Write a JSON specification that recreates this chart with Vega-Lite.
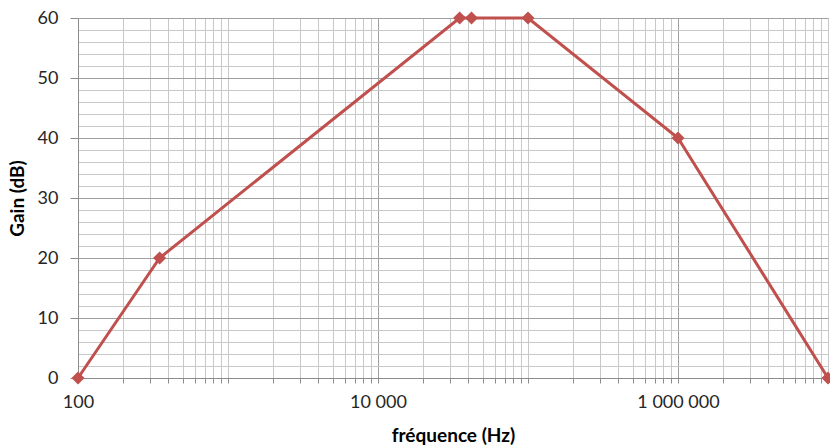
{
  "$schema": "https://vega.github.io/schema/vega-lite/v6.json",
  "autosize": {"type": "none"},
  "padding": {"left": 78, "top": 18, "right": 2, "bottom": 70},
  "width": 750,
  "height": 360,
  "background": "white",
  "config": {
    "view": {"stroke": null},
    "font": "Lato"
  },
  "data": {
    "values": [
      {"f": 100, "gain": 0},
      {"f": 350, "gain": 20},
      {"f": 35000, "gain": 60},
      {"f": 42000, "gain": 60},
      {"f": 100000, "gain": 60},
      {"f": 1000000, "gain": 40},
      {"f": 10000000, "gain": 0}
    ]
  },
  "mark": {"type": "line", "color": "#c0504d", "strokeWidth": 3, "point": {"shape": "diamond", "size": 170, "color": "#c0504d", "filled": true, "opacity": 1}},
  "encoding": {
    "x": {
      "field": "f",
      "type": "quantitative",
      "scale": {"type": "log", "domain": [100, 10000000], "nice": false},
      "axis": {
        "title": "fréquence (Hz)",
        "titleFont": "Lato",
        "titleFontSize": 19,
        "titleFontWeight": "bold",
        "titleColor": "#000000",
        "titlePadding": 15,
        "values": [100,200,300,400,500,600,700,800,900,1000,2000,3000,4000,5000,6000,7000,8000,9000,10000,20000,30000,40000,50000,60000,70000,80000,90000,100000,200000,300000,400000,500000,600000,700000,800000,900000,1000000,2000000,3000000,4000000,5000000,6000000,7000000,8000000,9000000,10000000],
        "labelExpr": "datum.value == 100 ? '100' : datum.value == 10000 ? '10 000' : datum.value == 1000000 ? '1 000 000' : ''",
        "labelFontSize": 18,
        "labelColor": "#262626",
        "labelPadding": 10,
        "labelOverlap": false,
        "labelFlush": false,
        "tickSize": 5,
        "tickColor": "#8c8c8c",
        "domainColor": "#8c8c8c",
        "domainWidth": 1,
        "grid": true,
        "gridColor": {"condition": {"test": "datum.value == 100 || datum.value == 10000 || datum.value == 1000000", "value": "#a0a0a0"}, "value": "#c8c8c8"},
        "gridWidth": 1
      }
    },
    "y": {
      "field": "gain",
      "type": "quantitative",
      "scale": {"domain": [0, 60], "nice": false},
      "axis": {
        "title": "Gain (dB)",
        "titleFont": "Lato",
        "titleFontSize": 19,
        "titleFontWeight": "bold",
        "titleColor": "#000000",
        "titlePadding": 10,
        "values": [0,2,4,6,8,10,12,14,16,18,20,22,24,26,28,30,32,34,36,38,40,42,44,46,48,50,52,54,56,58,60],
        "labelExpr": "datum.value % 10 === 0 ? datum.label : ''",
        "labelFontSize": 18,
        "labelColor": "#262626",
        "labelPadding": 12,
        "labelOverlap": false,
        "tickSize": 8,
        "tickColor": "#8c8c8c",
        "tickOpacity": {"condition": {"test": "datum.value % 10 === 0", "value": 1}, "value": 0},
        "domainColor": "#8c8c8c",
        "grid": true,
        "gridColor": {"condition": {"test": "datum.value % 10 === 0", "value": "#a0a0a0"}, "value": "#c8c8c8"},
        "gridWidth": 1
      }
    }
  }
}
